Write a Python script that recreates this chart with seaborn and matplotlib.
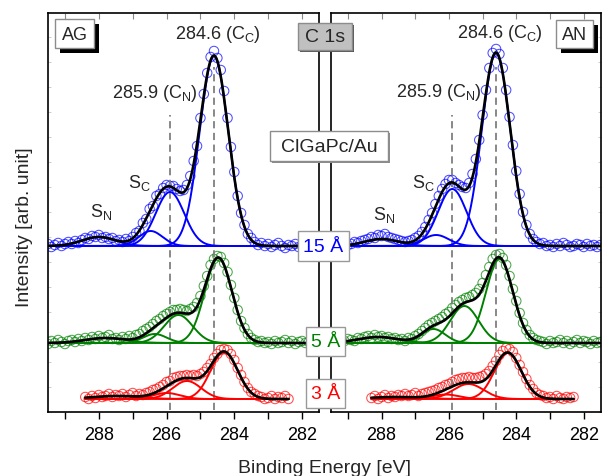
import numpy as np
import pandas as pd
import matplotlib
matplotlib.use("Agg")
import matplotlib.pyplot as plt
from matplotlib.patches import Rectangle
from matplotlib.ticker import MultipleLocator
import seaborn as sns

# ---------------------------------------------------------------------------
# C 1s spectra of ClGaPc on Au, as-grown (AG) and annealed (AN)
# measured intensities on a 0.1 eV binding-energy grid (start -> stop)
# ---------------------------------------------------------------------------
ag_15_start, ag_15_stop = 289.5, 281.5
ag_15 = [2, -1, 1, 3, 0, 2, 4, 2, 5, 3,
         6, 8, 7, 10, 9, 11, 8, 9, 7, 8,
         5, 6, 4, 7, 5, 9, 13, 15, 23, 27,
         37, 40, 50, 52, 58, 61, 60, 60, 57, 55,
         56, 61, 70, 85, 100, 128, 152, 173, 189, 195,
         188, 176, 155, 128, 99, 74, 50, 33, 21, 12,
         8, 4, 1, 3, 0, 2, -1, 1, 3, 0,
         -2, 1, 0, 2, -1, 1, 0, 3, 1, -1, 2]
ag_5_start, ag_5_stop = 289.5, 281.5
ag_5 = [-1, 2, 0, 3, 1, -1, 2, 3, 1, 4,
        2, 5, 3, 6, 4, 7, 5, 6, 8, 4,
        5, 3, 6, 4, 7, 5, 8, 9, 12, 14,
        16, 19, 22, 24, 27, 29, 31, 33, 33, 34,
        33, 32, 34, 36, 40, 47, 57, 67, 78, 84,
        87, 86, 80, 71, 58, 45, 33, 22, 15, 9,
        5, 3, 1, 2, 0, 1, -1, 2, 0, 1,
        3, 0, 2, -1, 1, 2, 0, 1, -1, 2, 0]
ag_3_start, ag_3_stop = 288.4, 282.4
ag_3 = [2, 0, 3, 1, 4, 2, 3, 5, 2, 4,
        3, 5, 2, 4, 6, 3, 5, 4, 6, 7,
        9, 10, 12, 14, 17, 18, 21, 22, 23, 23,
        24, 23, 24, 23, 25, 27, 31, 35, 41, 45,
        49, 50, 49, 45, 39, 31, 24, 17, 11, 7,
        5, 3, 2, 0, 1, 3, 0, 2, 1, 3, 0]
an_15_start, an_15_stop = 289.5, 281.5
an_15 = [1, -1, 2, 0, 3, 1, 2, 4, 3, 5,
         6, 7, 9, 8, 11, 10, 12, 9, 8, 7,
         6, 5, 4, 5, 6, 8, 10, 14, 19, 26,
         33, 42, 50, 57, 62, 66, 66, 63, 61, 59,
         58, 63, 72, 87, 106, 131, 156, 178, 193, 197,
         192, 178, 156, 129, 101, 75, 52, 34, 21, 12,
         7, 4, 2, 3, 0, 1, -1, 2, 0, 3,
         1, -1, 0, 2, 1, -1, 2, 0, 1, -1, 1]
an_5_start, an_5_stop = 289.5, 281.5
an_5 = [2, 0, 3, 1, 2, 4, 3, 2, 5, 4,
        6, 7, 5, 8, 6, 7, 5, 6, 4, 5,
        3, 4, 2, 5, 4, 7, 9, 12, 15, 18,
        20, 22, 24, 26, 29, 31, 35, 38, 41, 43,
        45, 46, 48, 50, 54, 60, 68, 76, 84, 88,
        89, 85, 78, 67, 54, 42, 30, 20, 13, 8,
        5, 3, 2, 1, -1, 2, 0, 1, 3, 0,
        2, -1, 1, 3, 0, 2, 1, -1, 2, 0, 1]
an_3_start, an_3_stop = 288.3, 282.3
an_3 = [1, 3, 0, 2, 4, 1, 3, 2, 4, 3,
        5, 3, 4, 6, 3, 5, 6, 7, 8, 9,
        11, 12, 14, 15, 17, 19, 20, 21, 21, 22,
        21, 21, 22, 23, 25, 28, 33, 38, 44, 48,
        51, 50, 47, 41, 34, 27, 20, 14, 10, 6,
        4, 3, 1, 2, 0, 3, 1, 0, 2, 1, 2]

# fitted Gaussian components: S_N, S_C, C_N, C_C  (centre [eV], height, sigma [eV])
ag_15_centre = [288.0, 286.47, 285.9, 284.6]
ag_15_height = [9, 15, 54, 190]
ag_15_sigma = [0.5, 0.35, 0.42, 0.42]
ag_5_centre = [287.8, 286.35, 285.65, 284.47]
ag_5_height = [5, 9, 28, 85]
ag_5_sigma = [0.6, 0.35, 0.42, 0.4]
ag_3_centre = [287.5, 286.0, 285.4, 284.3]
ag_3_height = [3, 6, 18, 47]
ag_3_sigma = [0.7, 0.4, 0.42, 0.4]
an_15_centre = [288.0, 286.38, 285.9, 284.6]
an_15_height = [7, 11, 57, 193]
an_15_sigma = [0.5, 0.38, 0.42, 0.42]
an_5_centre = [288.1, 286.46, 285.54, 284.5]
an_5_height = [6, 14, 37, 84]
an_5_sigma = [0.6, 0.35, 0.42, 0.4]
an_3_centre = [287.6, 286.1, 285.42, 284.25]
an_3_height = [2, 4.5, 15, 46]
an_3_sigma = [0.7, 0.4, 0.45, 0.4]

thickness_labels = ["15 Å", "5 Å", "3 Å"]
thickness_offsets = [166, 69, 13]
thickness_colors = ["#0000ff", "#008000", "#ff0000"]
reference_energies = [285.9, 284.6]

# ---------------------------------------------------------------------------
sns.set_theme(style="ticks")
plt.rcParams["font.family"] = ["Liberation Sans", "DejaVu Sans"]
plt.rcParams["mathtext.fontset"] = "custom"
plt.rcParams["mathtext.rm"] = "Liberation Sans"
plt.rcParams["mathtext.it"] = "Liberation Sans:italic"

W, H = 602, 477
fig = plt.figure(figsize=(W / 100, H / 100), dpi=100)
axL = fig.add_axes([48 / W, 64 / H, 271 / W, 399 / H])
axR = fig.add_axes([331 / W, 64 / H, 269.5 / W, 399 / H])


def gauss(x, c, h, s):
    return h * np.exp(-(x - c) ** 2 / (2.0 * s * s))


def draw_spectrum(ax, counts, start, stop, centres, heights, sigmas, offset, color):
    energy = np.round(np.linspace(start, stop, len(counts)), 2)
    df = pd.DataFrame({"energy": energy, "counts": np.asarray(counts, float) + offset})
    sns.scatterplot(data=df, x="energy", y="counts", ax=ax, marker="o", s=46,
                    facecolor="none", edgecolor=color, linewidth=0.75, alpha=0.7,
                    zorder=2)
    xf = np.linspace(start, stop, 600)
    total = np.zeros_like(xf)
    for c, h, s in zip(centres, heights, sigmas):
        comp = gauss(xf, c, h, s)
        total += comp
        sns.lineplot(x=xf, y=comp + offset, ax=ax, color=color, lw=1.4,
                     sort=False, estimator=None, zorder=3)
    sns.lineplot(x=xf, y=total + offset, ax=ax, color="black", lw=1.9,
                 sort=False, estimator=None, zorder=4)


panels = {
    axL: [(ag_15, ag_15_start, ag_15_stop, ag_15_centre, ag_15_height, ag_15_sigma),
          (ag_5, ag_5_start, ag_5_stop, ag_5_centre, ag_5_height, ag_5_sigma),
          (ag_3, ag_3_start, ag_3_stop, ag_3_centre, ag_3_height, ag_3_sigma)],
    axR: [(an_15, an_15_start, an_15_stop, an_15_centre, an_15_height, an_15_sigma),
          (an_5, an_5_start, an_5_stop, an_5_centre, an_5_height, an_5_sigma),
          (an_3, an_3_start, an_3_stop, an_3_centre, an_3_height, an_3_sigma)],
}

for ax, spectra in panels.items():
    for (counts, a, b, c, h, s), off, col in zip(spectra, thickness_offsets, thickness_colors):
        draw_spectrum(ax, counts, a, b, c, h, s, off, col)
    ax.vlines(reference_energies[0], 2, 297, colors="#7f7f7f", linestyles=(0, (4, 2.5)),
              lw=1.3, zorder=2.5)
    ax.vlines(reference_energies[1], 2, 345, colors="#7f7f7f", linestyles=(0, (4, 2.5)),
              lw=1.3, zorder=2.5)
    ax.set_xlim(289.5, 281.5)
    ax.set_ylim(0, 399)
    ax.set_xlabel("")
    ax.set_ylabel("")
    ax.xaxis.set_major_locator(MultipleLocator(2))
    ax.xaxis.set_minor_locator(MultipleLocator(1))
    ax.tick_params(axis="x", which="both", direction="out", length=5, width=1,
                   labelsize=13, pad=5, color="black", labelcolor="black")
    ax.yaxis.set_major_locator(MultipleLocator(25))
    ax.tick_params(axis="y", which="both", direction="in", length=2.5, width=0.7,
                   color="#cccccc", labelleft=False, labelright=False)
    for sp in ax.spines.values():
        sp.set_visible(True)
        sp.set_linewidth(1.2)
        sp.set_color("black")
    top = ax.secondary_xaxis("top")
    top.xaxis.set_major_locator(MultipleLocator(2))
    top.xaxis.set_minor_locator(MultipleLocator(1))
    top.tick_params(axis="x", which="both", direction="in", length=4, width=0.8,
                    color="#888888", labeltop=False)
    top.spines["top"].set_visible(False)

axL.tick_params(axis="y", left=True, right=False)
axR.tick_params(axis="y", left=False, right=True)

fig.text(324 / W, 1 - 473 / H, "Binding Energy [eV]", ha="center", va="baseline",
         fontsize=14)
fig.text(25 / W, 1 - 227 / H, "Intensity [arb. unit]", ha="center", va="center",
         rotation=90, fontsize=14)


def ftext(x, y, s, **kw):
    fig.text(x / W, 1 - y / H, s, **kw)


def fbox(x0, y0, x1, y1, face, edge, shadow=None, sh=0, lw=1.0):
    if shadow is not None:
        fig.add_artist(Rectangle((x0 / W + sh / W, 1 - (y1 + sh) / H), (x1 - x0) / W,
                                 (y1 - y0) / H, transform=fig.transFigure,
                                 facecolor=shadow, edgecolor="none", zorder=5))
    fig.add_artist(Rectangle((x0 / W, 1 - y1 / H), (x1 - x0) / W, (y1 - y0) / H,
                             transform=fig.transFigure, facecolor=face,
                             edgecolor=edge, lw=lw, zorder=6))


# peak annotations
for dx, cc, cn in [(0, 217.5, 155), (1, 500, 439)]:
    ftext(cc, 39 - dx, "284.6 (C$_\\mathregular{C}$)", ha="center", va="baseline", fontsize=13)
    ftext(cn, 98 - dx, "285.9 (C$_\\mathregular{N}$)", ha="center", va="baseline", fontsize=13)
ftext(128, 188, "S$_\\mathregular{C}$", ha="left", va="baseline", fontsize=13)
ftext(90, 217, "S$_\\mathregular{N}$", ha="left", va="baseline", fontsize=13)
ftext(412, 188, "S$_\\mathregular{C}$", ha="left", va="baseline", fontsize=13)
ftext(373, 220, "S$_\\mathregular{N}$", ha="left", va="baseline", fontsize=13)

# sample boxes
fbox(55, 20, 94, 49, "white", "#8c8c8c", shadow="black", sh=5)
ftext(74.5, 35, "AG", ha="center", va="center", fontsize=13, zorder=7)
fbox(556, 21, 593, 49, "white", "#8c8c8c", shadow="black", sh=5)
ftext(574.5, 35.5, "AN", ha="center", va="center", fontsize=13, zorder=7)
fbox(298, 24, 352, 51, "#c0c0c0", "#8c8c8c", shadow="#555555", sh=2)
ftext(325, 38, "C 1s", ha="center", va="center", fontsize=14, zorder=7)
fbox(270, 132, 388, 162, "white", "#8c8c8c", shadow="#8c8c8c", sh=2)
ftext(329, 147.5, "ClGaPc/Au", ha="center", va="center", fontsize=14, zorder=7)

# thickness boxes
for (x0, y0, x1, y1), lab, col in zip([(298, 232, 349, 262), (306, 328, 345, 357),
                                       (306, 380, 345, 409)],
                                      thickness_labels, thickness_colors):
    fbox(x0, y0, x1, y1, "white", "#999999")
    ftext((x0 + x1) / 2, (y0 + y1) / 2 + 0.5, lab, ha="center", va="center",
          fontsize=14, color=col, zorder=7)

fig.savefig("out.png", dpi=100)
